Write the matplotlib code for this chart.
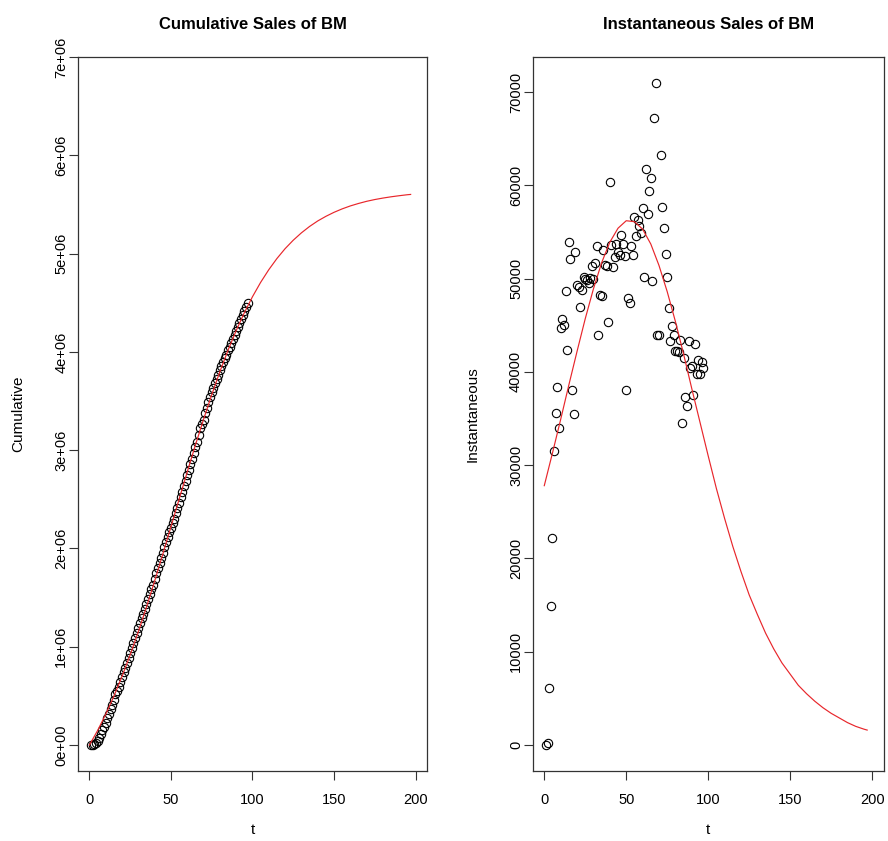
import numpy as np
import matplotlib
matplotlib.use("Agg")
import matplotlib.pyplot as plt
from matplotlib.ticker import FuncFormatter

plt.rcParams['font.family'] = ['Liberation Sans', 'DejaVu Sans']

# observed weekly sales, t = 1..97
sales = [0, 200, 6100, 14900, 22200, 31500, 35600, 38400, 34000, 44700,
         45700, 45000, 48700, 42300, 53900, 52100, 38100, 35500, 52900, 49300,
         49100, 46900, 48800, 50200, 50000, 49800, 49500, 50100, 51300, 50000,
         51700, 53500, 43900, 48200, 48100, 53100, 51500, 51400, 45300, 60400,
         53600, 51200, 52300, 53700, 52900, 52500, 54700, 53700, 52400, 38100,
         47900, 47400, 53500, 52500, 56600, 54600, 56300, 55600, 54900, 57600,
         50200, 61700, 56900, 59400, 60800, 49700, 67200, 71000, 44000, 44000,
         63300, 57700, 55400, 52600, 50200, 46800, 43300, 44900, 44000, 42200,
         42200, 42100, 43400, 34500, 41500, 37300, 36300, 43300, 40400, 40600,
         37500, 43000, 39800, 41300, 39800, 41100, 40400]

# fitted Bass model curves, sampled along t
fit_t = [0, 5, 10, 15, 20, 25, 30, 35, 40, 45, 50, 55, 60, 65, 70, 75, 80,
         85, 90, 95, 100, 105, 110, 115, 120, 125, 130, 135, 140, 145, 150,
         155, 160, 165, 170, 175, 180, 185, 190, 195, 197]
fit_inst = [27800, 31300, 34900, 38600, 42200, 45700, 48900, 51700, 53900,
            55400, 56200, 56100, 55300, 53700, 51400, 48600, 45400, 41900,
            38200, 34600, 31000, 27500, 24300, 21300, 18600, 16100, 14000,
            12000, 10300, 8800, 7600, 6400, 5500, 4700, 4000, 3400, 2900,
            2400, 2000, 1700, 1600]
fit_cum = [0, 147000, 313000, 496000, 698000, 917000, 1153000, 1404000,
           1668000, 1941000, 2220000, 2500000, 2778000, 3051000, 3313000,
           3563000, 3798000, 4016000, 4216000, 4398000, 4561000, 4707000,
           4836000, 4950000, 5050000, 5136000, 5211000, 5276000, 5332000,
           5379000, 5420000, 5455000, 5485000, 5510000, 5532000, 5550000,
           5565000, 5578000, 5589000, 5599000, 5602000]

t = np.arange(1, len(sales) + 1)
cum = np.cumsum(sales)

fig = plt.figure(figsize=(8.88, 8.41), dpi=100)
ax1 = fig.add_axes([0.0878, 0.0832, 0.393, 0.849])
ax2 = fig.add_axes([0.600, 0.0832, 0.395, 0.849])

def style(ax):
    for s in ax.spines.values():
        s.set_linewidth(0.9)
        s.set_color('#333333')
    ax.tick_params(direction='out', length=6.5, width=0.8, labelsize=10.5,
                   colors='#333333', labelcolor='black')
    ax.tick_params(axis='x', pad=9)
    ax.tick_params(axis='y', pad=0.5)
    ax.set_xlim(-7, 207)
    ax.set_xticks([0, 50, 100, 150, 200])
    ax.set_xlabel('t', fontsize=11, labelpad=12)
    for lab in ax.get_yticklabels():
        lab.set_rotation(90)
        lab.set_va('center')

# left: cumulative
ax1.plot(t, cum, 'o', mfc='none', mec='black', ms=6, mew=0.8)
ax1.plot(fit_t, fit_cum, color='#e8262b', lw=0.85)
ax1.set_ylim(-264000, 7000000)
ax1.set_yticks(np.arange(0, 7000001, 1000000))
ax1.yaxis.set_major_formatter(FuncFormatter(lambda v, p: f"{v:.0e}"))
ax1.set_ylabel('Cumulative', fontsize=11, labelpad=21)
ax1.set_title('Cumulative Sales of BM', fontsize=12, fontweight='bold', pad=20)
style(ax1)

# right: instantaneous
ax2.plot(t, sales, 'o', mfc='none', mec='black', ms=6, mew=0.8)
ax2.plot(fit_t, fit_inst, color='#e8262b', lw=0.85)
ax2.set_ylim(-2790, 73750)
ax2.set_yticks(np.arange(0, 70001, 10000))
ax2.yaxis.set_major_formatter(FuncFormatter(lambda v, p: f"{int(v)}"))
ax2.set_ylabel('Instantaneous', fontsize=11, labelpad=21)
ax2.set_title('Instantaneous Sales of BM', fontsize=12, fontweight='bold', pad=20)
style(ax2)

fig.savefig('out.png', dpi=100, facecolor='white')
